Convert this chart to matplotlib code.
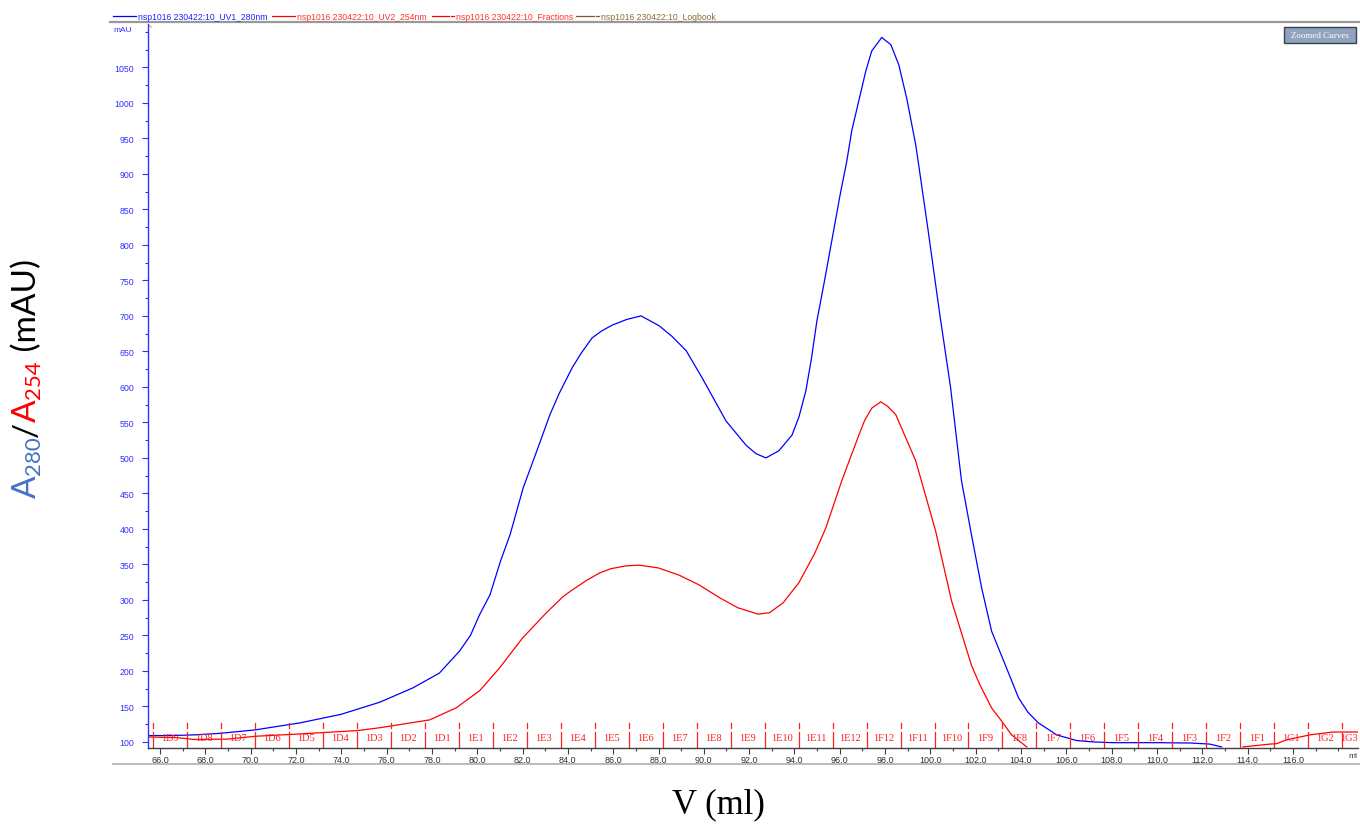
import matplotlib
matplotlib.use('Agg')
import numpy as np
import matplotlib.pyplot as plt
from matplotlib.patches import Rectangle
from matplotlib.lines import Line2D

# UV 280 nm (blue) - volume (ml) / absorbance (mAU)
v_280 = [65.5, 66.5, 67.5, 68.6, 70.2, 72.2, 74.0, 75.7, 77.15, 78.33, 79.22, 79.7,
         80.1, 80.56, 81.03, 81.45, 82.03, 82.62, 83.21, 83.62, 84.19, 84.6, 85.07,
         85.5, 85.96, 86.6, 87.23, 88.03, 88.6, 89.22, 89.92, 90.98, 91.86, 92.3,
         92.74, 93.31, 93.89, 94.2, 94.5, 94.75, 94.99, 95.3, 95.7, 96.0, 96.31,
         96.53, 96.84, 97.15, 97.41, 97.85, 98.25, 98.6, 98.95, 99.35, 99.48, 99.9,
         100.4, 100.89, 101.37, 101.81, 102.26, 102.7, 103.31, 103.89, 104.3,
         104.76, 105.57, 106.45, 107.2, 108.05, 110.0, 111.5, 112.33, 112.85]
a_280 = [109, 109, 110, 112, 117, 127, 139, 156, 176, 197, 228, 250,
         279, 307, 355, 392, 458, 509, 561, 591, 627, 648, 669,
         679, 687, 695, 700, 686, 671, 651, 613, 552, 518, 506,
         500, 510, 532, 558, 594, 640, 693, 745, 815, 868, 918,
         961, 1003, 1045, 1073, 1092, 1082, 1054, 1007, 941, 913, 820,
         705, 599, 468, 392, 317, 256, 208, 162, 142,
         127, 110, 102, 100, 99, 99, 98.5, 97, 93]

# UV 254 nm (red)
v_254 = [65.5, 66.8, 67.5, 69.0, 70.2, 72.0, 74.7, 75.69, 77.89, 79.07, 80.1, 80.98,
         81.99, 83.05, 83.8, 84.19, 84.8, 85.4, 85.9, 86.57, 87.15, 88.0, 88.9, 89.8,
         90.7, 91.5, 92.4, 92.9, 93.5, 94.19, 94.9, 95.38, 96.09, 96.84, 97.1, 97.41,
         97.81, 98.1, 98.47, 99.35, 100.23, 100.93, 101.81, 102.19, 102.7, 103.2,
         103.58, 104.25, np.nan, 113.79, 114.98, 115.28, 115.72, 116.75, 117.76, 118.9]
a_254 = [107, 106, 103.5, 104, 108, 111, 116, 120, 131, 148, 172, 204,
         246, 282, 305, 314, 327, 338, 344, 348, 349, 345, 335, 321,
         303, 289, 280, 282, 296, 324, 366, 401, 468, 532, 553, 570,
         579, 573, 561, 496, 397, 299, 208, 180, 148, 127,
         110, 93, np.nan, 93, 97, 97.6, 103, 110, 114, 114]

# fractions
frac_start = 65.68
frac_width = 1.5
frac_labels = ['1D9', '1D8', '1D7', '1D6', '1D5', '1D4', '1D3', '1D2', '1D1',
               '1E1', '1E2', '1E3', '1E4', '1E5', '1E6', '1E7', '1E8', '1E9',
               '1E10', '1E11', '1E12', '1F12', '1F11', '1F10', '1F9', '1F8',
               '1F7', '1F6', '1F5', '1F4', '1F3', '1F2', '1F1', '1G1', '1G2', '1G3']

legend_labels = ['nsp1016 230422:10_UV1_280nm', 'nsp1016 230422:10_UV2_254nm',
                 'nsp1016 230422:10_Fractions', 'nsp1016 230422:10_Logbook']

W, H = 1360, 828
fig = plt.figure(figsize=(W / 100, H / 100), dpi=100)

def fx(px):
    return px / W

def fy(py):
    return 1 - py / H

ax = fig.add_axes([fx(148), fy(749), (1358 - 148) / W, (749 - 25) / H])
ax.plot(v_280, a_280, color='#0000ff', lw=0.9)
ax.plot(v_254, a_254, color='#ff0000', lw=0.9)
ax.set_xlim(65.47, 118.87)
ax.set_ylim(91.5, 1111)

for s in ['top', 'right']:
    ax.spines[s].set_visible(False)
ax.spines['left'].set_color('#3030ff')
ax.spines['bottom'].set_color('#404040')
ax.spines['left'].set_linewidth(1.0)
ax.spines['bottom'].set_linewidth(1.0)

ax.set_xticks(np.arange(66, 118, 2))
ax.set_xticklabels([f'{t:.1f}' for t in np.arange(66, 118, 2)])
ax.set_xticks(np.arange(66, 119, 1), minor=True)
ax.set_yticks(np.arange(100, 1051, 50))
ax.set_yticks(np.arange(100, 1101, 25), minor=True)
ax.tick_params(axis='x', which='major', length=4, width=0.8, color='#404040',
               labelsize=6.5, labelcolor='#303030', pad=1)
ax.tick_params(axis='x', which='minor', length=2, width=0.8, color='#404040')
ax.tick_params(axis='y', which='major', length=4, width=0.8, color='#3030ff',
               labelsize=6.3, labelcolor='#3030ff', pad=6)
ax.tick_params(axis='y', which='minor', length=2, width=0.8, color='#3030ff')
for lab in ax.get_xticklabels() + ax.get_yticklabels():
    lab.set_family('Liberation Sans')

# fraction marks and labels
trans = ax.get_xaxis_transform()
for k in range(len(frac_labels)):
    xb = frac_start + frac_width * k
    ax.plot([xb, xb], [0.0, 0.022], color='#ff2020', lw=0.9, transform=trans, clip_on=True)
    ax.plot([xb, xb], [0.028, 0.034], color='#ff2020', lw=0.9, transform=trans, clip_on=True)
    if k == len(frac_labels) - 1:
        # last fraction is cut by the axis end, keep its label inside
        ax.text(0.9995, 0.014, frac_labels[k], color='#ff2020', fontsize=7.5,
                family='Liberation Serif', ha='right', va='center',
                transform=ax.transAxes)
    else:
        ax.text(xb + frac_width / 2, 0.014, frac_labels[k], color='#ff2020', fontsize=7.5,
                family='Liberation Serif', ha='center', va='center', transform=trans)

# top/bottom frame lines
fig.add_artist(Line2D([fx(110), fx(1360)], [fy(23), fy(23)], color='#999999', lw=1.6))
fig.add_artist(Line2D([fx(113), fx(1360)], [fy(765), fy(765)], color='#bbbbbb', lw=1.4))

# legend row
leg_colors = ['#0000ff', '#ff0000', '#ff0000', '#7a5a2a']
leg_text_colors = ['#2020ff', '#ff3030', '#ff3030', '#8a6a3a']
leg_line = [(113, 136), (272, 295), (432, 449), (576, 594)]
leg_text_x = [138, 297, 456, 601]
for i in range(4):
    x0, x1 = leg_line[i]
    fig.add_artist(Line2D([fx(x0), fx(x1)], [fy(17), fy(17)], color=leg_colors[i], lw=0.9))
    if i >= 2:
        fig.add_artist(Line2D([fx(x1 + 2), fx(x1 + 5)], [fy(17), fy(17)],
                              color=leg_colors[i], lw=0.9))
    fig.text(fx(leg_text_x[i]), fy(17), legend_labels[i], color=leg_text_colors[i],
             fontsize=6.2, family='Liberation Sans', va='center', ha='left')

fig.text(fx(113), fy(30), 'mAU', color='#3030ff', fontsize=6, family='Liberation Sans',
         va='center', ha='left')
fig.text(fx(148), fy(29), '^', color='#ff4040', fontsize=6, family='Liberation Sans',
         va='center', ha='left')
fig.text(fx(1353), fy(757), 'ml', color='#303030', fontsize=6, family='Liberation Sans',
         va='center', ha='center')

# Zoomed Curves button
fig.add_artist(Rectangle((fx(1284), fy(44)), (1356 - 1284) / W, 16 / H,
                         facecolor='#8fa3bf', edgecolor='#3a4250', lw=1.0,
                         transform=fig.transFigure))
fig.text(fx(1320), fy(36), 'Zoomed Curves', color='white', fontsize=6.5,
         family='Liberation Serif', ha='center', va='center')

# x label
fig.text(fx(718), fy(805), 'V (ml)', fontsize=25, family='Liberation Serif',
         ha='center', va='center', color='black')

# y label built from colored pieces, rotated 90 degrees
renderer = fig.canvas.get_renderer()
pieces = [('A', '#4472c4', 24, 0), ('280', '#4472c4', 16, 4),
          ('/', 'black', 24, 0), ('A', '#ff0000', 24, 0), ('254', '#ff0000', 16, 4),
          (' (mAU)', 'black', 24, 0)]
base_x = 36
cur_y = 498
for txt, col, size, shift in pieces:
    t = fig.text(fx(base_x + shift), fy(cur_y), txt, color=col, fontsize=size,
                 family='Lato', rotation=90, rotation_mode='anchor',
                 ha='left', va='baseline')
    bb = t.get_window_extent(renderer)
    cur_y -= bb.height

fig.savefig('out.png', dpi=100)
